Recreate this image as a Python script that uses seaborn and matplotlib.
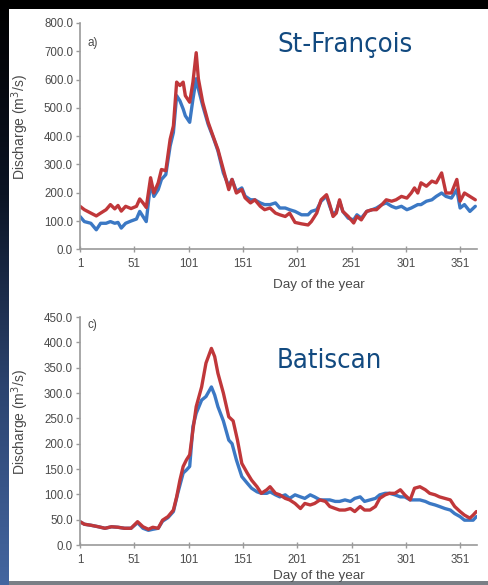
import numpy as np
import pandas as pd
import matplotlib
matplotlib.use("Agg")
import matplotlib.pyplot as plt
import seaborn as sns
from matplotlib.patches import Rectangle
from matplotlib import font_manager as fm
from matplotlib.colors import LinearSegmentedColormap

# ---------------- data ----------------
top_days = [1, 5, 11, 16, 20, 25, 29, 33, 36, 39, 43, 48, 53, 56, 59, 62, 66, 69, 73, 76,
            80, 84, 87, 90, 93, 96, 98, 102, 105, 108, 110, 114, 119, 124, 128, 133, 138, 141,
            145, 150, 153, 158, 162, 167, 171, 176, 181, 185, 190, 194, 199, 205, 211, 214,
            219, 223, 228, 231, 234, 237, 240, 243, 248, 253, 256, 260, 265, 270, 274, 279,
            283, 288, 292, 297, 302, 306, 309, 312, 315, 320, 325, 329, 334, 338, 343, 348,
            351, 355, 360, 365]
top_red = [152, 140, 128, 118, 128, 140, 158, 143, 155, 135, 152, 144, 152, 178, 164, 148,
           253, 199, 235, 282, 278, 389, 436, 591, 579, 591, 543, 520, 591, 695, 603, 520,
           449, 395, 353, 282, 211, 247, 199, 211, 182, 164, 175, 152, 140, 146, 128, 122,
           116, 128, 95, 90, 86, 98, 128, 175, 193, 158, 116, 128, 175, 134, 116, 93, 116,
           104, 134, 140, 140, 158, 175, 170, 175, 187, 181, 199, 217, 199, 235, 223, 241,
           235, 270, 199, 199, 247, 170, 199, 187, 175]
top_blue = [116, 98, 92, 69, 92, 92, 98, 92, 95, 75, 92, 100, 107, 134, 116, 98, 235, 187,
            211, 247, 264, 365, 413, 543, 525, 496, 472, 449, 531, 603, 567, 508, 442, 392,
            348, 270, 223, 247, 205, 217, 188, 175, 175, 164, 158, 158, 164, 146, 146, 140,
            134, 122, 122, 134, 140, 170, 188, 152, 122, 134, 170, 134, 110, 104, 122, 110,
            134, 140, 146, 158, 164, 152, 146, 152, 140, 146, 152, 158, 158, 170, 175, 187,
            199, 187, 181, 211, 146, 158, 134, 152]

bot_red_days = [1, 5, 11, 18, 24, 30, 36, 42, 48, 54, 59, 64, 68, 73, 77, 82, 87, 90, 93,
                96, 99, 102, 105, 108, 113, 117, 122, 125, 128, 133, 138, 142, 146, 150, 155,
                159, 164, 168, 173, 176, 181, 185, 190, 194, 199, 204, 208, 213, 217, 222,
                227, 231, 236, 240, 245, 250, 254, 259, 263, 268, 273, 277, 282, 286, 291,
                296, 300, 305, 309, 314, 319, 323, 328, 332, 337, 342, 346, 351, 355, 360,
                363, 366]
bot_red = [46, 41, 39, 36, 33, 36, 35, 33, 33, 46, 36, 31, 35, 33, 49, 56, 69, 95, 128, 155,
           168, 178, 227, 273, 312, 359, 388, 372, 339, 300, 253, 245, 207, 161, 142, 128,
           115, 102, 109, 115, 102, 99, 92, 89, 82, 72, 82, 79, 82, 89, 86, 76, 72, 69, 69,
           72, 66, 76, 69, 69, 76, 92, 99, 102, 102, 109, 99, 89, 112, 115, 109, 102, 99, 95,
           92, 89, 76, 66, 59, 53, 59, 66]
bot_blue_days = [1, 5, 11, 18, 24, 30, 36, 42, 48, 54, 59, 64, 68, 73, 77, 82, 87, 91, 96,
                 99, 102, 105, 108, 113, 117, 122, 125, 128, 133, 138, 141, 145, 150, 155,
                 159, 164, 168, 173, 176, 181, 185, 190, 194, 199, 204, 208, 213, 217, 222,
                 227, 231, 236, 240, 245, 250, 254, 259, 263, 268, 273, 277, 282, 286, 291,
                 296, 300, 305, 309, 314, 319, 323, 328, 332, 337, 342, 346, 351, 355, 360,
                 363, 366]
bot_blue = [46, 41, 39, 36, 33, 36, 35, 33, 33, 44, 33, 29, 31, 33, 47, 54, 66, 102, 142,
            148, 155, 234, 260, 286, 293, 312, 296, 273, 245, 207, 200, 168, 135, 122, 112,
            105, 102, 102, 105, 99, 95, 99, 92, 99, 95, 92, 99, 95, 89, 89, 89, 86, 86, 89,
            86, 92, 95, 86, 89, 92, 99, 102, 102, 99, 95, 95, 89, 89, 89, 86, 82, 79, 76, 72,
            69, 62, 56, 49, 49, 49, 56]

series_names = ["blue", "red"]
titles = ["St-François", "Batiscan"]
panel_labels = ["a)", "c)"]
top_yticks = [0, 100, 200, 300, 400, 500, 600, 700, 800]
bot_yticks = [0, 50, 100, 150, 200, 250, 300, 350, 400, 450]
xticks = [1, 51, 101, 151, 201, 251, 301, 351]

# ---------------- figure ----------------
sns.set_theme(style="white")
plt.rcParams["font.family"] = ["Liberation Sans", "DejaVu Sans"]

# pick a condensed face for the titles if one is installed
title_props = None
for fam, stretch in [("Liberation Sans Narrow", "condensed"),
                     ("DejaVu Sans", "condensed")]:
    fp = fm.FontProperties(family=fam, stretch=stretch)
    try:
        path = fm.findfont(fp, fallback_to_default=False)
    except Exception:
        continue
    low = path.lower()
    if "narrow" in low or "condensed" in low:
        title_props = fp
        break
if title_props is not None:
    title_size = 22.5 if "narrow" in fm.findfont(title_props).lower() else 19.6
else:
    title_props = fm.FontProperties(family="Liberation Sans")
    title_size = 19.0

W, H = 488, 585
fig = plt.figure(figsize=(W / 100, H / 100), dpi=100)
fig.patch.set_facecolor("white")

# decorative frame: black top band, gradient left strip, grey bottom line
fig.add_artist(Rectangle((0, 1 - 9 / H), 1, 9 / H, transform=fig.transFigure,
                         facecolor="black", edgecolor="none", zorder=0))
fig.add_artist(Rectangle((0, 0), 1, 4 / H, transform=fig.transFigure,
                         facecolor="#7a7f86", edgecolor="none", zorder=0))
gax = fig.add_axes([0, 0, 9 / W, 1])
grad = np.linspace(0, 1, 256).reshape(-1, 1)
cmap = LinearSegmentedColormap.from_list("g", ["#000000", "#0b1424", "#2c4470", "#4466a0"])
gax.imshow(grad, aspect="auto", cmap=cmap, origin="upper")
gax.set_axis_off()

palette = {"blue": "#3b78c4", "red": "#c0373a"}
text_col = "#4a4a4a"
axis_col = "#9a9a9a"

x_left, x_right = 80, 477
xlim = (1, 1 + (x_right - x_left) / 1.086)

panels = [
    dict(days=[top_days, top_days], vals=[top_blue, top_red], ylim=(0, 800),
         yticks=top_yticks, y0=249.3, y1=23.0, title_y=52, lab_y=43,
         xlab_y=285, ylab_y=127),
    dict(days=[bot_blue_days, bot_red_days], vals=[bot_blue, bot_red], ylim=(0, 450),
         yticks=bot_yticks, y0=545, y1=317, title_y=368, lab_y=325,
         xlab_y=576, ylab_y=422),
]

for i, p in enumerate(panels):
    ax = fig.add_axes([x_left / W, 1 - p["y0"] / H, (x_right - x_left) / W,
                       (p["y0"] - p["y1"]) / H])
    frames = []
    for name, d, v in zip(series_names, p["days"], p["vals"]):
        frames.append(pd.DataFrame({"day": d, "Q": v, "series": name}))
    df = pd.concat(frames, ignore_index=True)
    sns.lineplot(data=df, x="day", y="Q", hue="series", hue_order=series_names,
                 palette=palette, linewidth=2.4, legend=False, ax=ax,
                 estimator=None, sort=True)
    ax.set_xlim(*xlim)
    ax.set_ylim(*p["ylim"])
    ax.set_xticks(xticks)
    ax.set_yticks(p["yticks"])
    ax.set_yticklabels([f"{t:.1f}" for t in p["yticks"]])
    ax.set_xlabel("")
    ax.set_ylabel("")
    for s in ["top", "right"]:
        ax.spines[s].set_visible(False)
    for s in ["left", "bottom"]:
        ax.spines[s].set_color(axis_col)
        ax.spines[s].set_linewidth(1.2)
    ax.tick_params(axis="y", direction="out", length=3, width=1, color=axis_col,
                   labelsize=8.3, labelcolor=text_col, pad=2, left=True)
    ax.tick_params(axis="x", direction="inout", length=5, width=1, color=axis_col,
                   labelsize=8.3, labelcolor=text_col, pad=4, bottom=True)
    ax.patch.set_alpha(0)

    fig.text(277 / W, 1 - p["title_y"] / H, titles[i], color="#124a80",
             fontproperties=title_props, fontsize=title_size,
             ha="left", va="baseline")
    fig.text(87 / W, 1 - p["lab_y"] / H, panel_labels[i], color=text_col,
             fontsize=8.5, ha="left", va="center")
    fig.text(319 / W, 1 - p["xlab_y"] / H, "Day of the year", color=text_col,
             fontsize=9.7, ha="center", va="center")
    fig.text(20 / W, 1 - p["ylab_y"] / H, r"Discharge (m$^3$/s)", color=text_col,
             fontsize=10.0, ha="center", va="center", rotation=90)

fig.savefig("out.png", dpi=100, facecolor=fig.get_facecolor())
